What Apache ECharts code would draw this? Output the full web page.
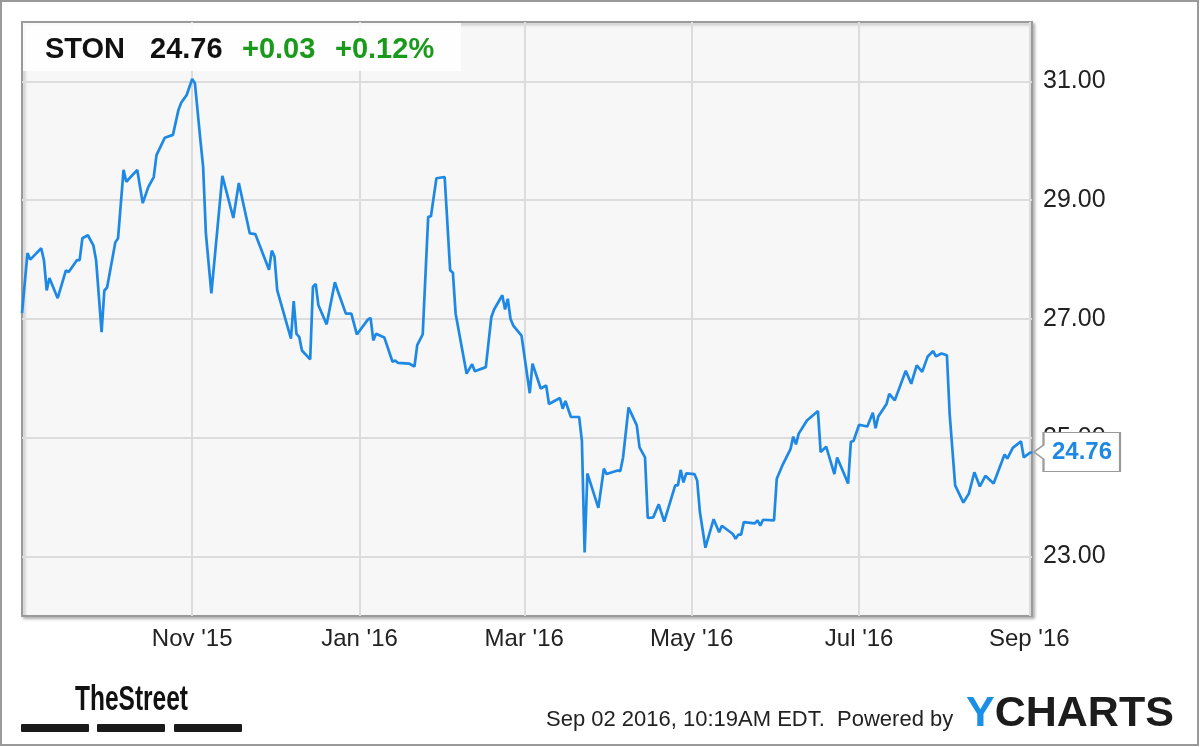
<!DOCTYPE html>
<html>
<head>
<meta charset="utf-8">
<script src="https://cdn.jsdelivr.net/npm/echarts@6/dist/echarts.min.js"></script>
<style>
html,body{margin:0;padding:0;background:#fff;}
#c{width:1200px;height:747px;}
</style>
</head>
<body>
<div id="c"></div>
<script>
const ticker = 'STON';
const lastPrice = '24.76';
const change = '+0.03';
const changePct = '+0.12%';

const dates = [
'2015-08-31','2015-09-02','2015-09-03','2015-09-07','2015-09-08','2015-09-09','2015-09-10','2015-09-13','2015-09-16','2015-09-17',
'2015-09-20','2015-09-21','2015-09-22','2015-09-24','2015-09-26','2015-09-27','2015-09-29','2015-09-30','2015-10-01','2015-10-04',
'2015-10-05','2015-10-07','2015-10-08','2015-10-12','2015-10-14','2015-10-16','2015-10-18','2015-10-19','2015-10-22','2015-10-25',
'2015-10-27','2015-10-28','2015-10-30','2015-11-01','2015-11-02','2015-11-04','2015-11-05','2015-11-06','2015-11-08','2015-11-12',
'2015-11-16','2015-11-18','2015-11-22','2015-11-24','2015-11-29','2015-11-30','2015-12-01','2015-12-02','2015-12-07','2015-12-08',
'2015-12-09','2015-12-10','2015-12-11','2015-12-14','2015-12-15','2015-12-16','2015-12-17','2015-12-20','2015-12-23','2015-12-24',
'2015-12-27','2015-12-29','2015-12-31','2016-01-04','2016-01-05','2016-01-06','2016-01-07','2016-01-10','2016-01-13','2016-01-14',
'2016-01-15','2016-01-19','2016-01-21','2016-01-22','2016-01-24','2016-01-26','2016-01-27','2016-01-29','2016-02-01','2016-02-03',
'2016-02-04','2016-02-05','2016-02-09','2016-02-11','2016-02-12','2016-02-16','2016-02-18','2016-02-19','2016-02-22','2016-02-23',
'2016-02-24','2016-02-25','2016-02-26','2016-02-29','2016-03-03','2016-03-04','2016-03-07','2016-03-09','2016-03-10','2016-03-14',
'2016-03-15','2016-03-16','2016-03-18','2016-03-21','2016-03-22','2016-03-23','2016-03-24','2016-03-28','2016-03-30','2016-03-31',
'2016-04-04','2016-04-05','2016-04-06','2016-04-08','2016-04-11','2016-04-12','2016-04-14','2016-04-15','2016-04-17','2016-04-19',
'2016-04-21','2016-04-25','2016-04-26','2016-04-27','2016-04-28','2016-04-29','2016-05-02','2016-05-03','2016-05-04','2016-05-06',
'2016-05-09','2016-05-11','2016-05-12','2016-05-16','2016-05-17','2016-05-18','2016-05-19','2016-05-20','2016-05-24','2016-05-25',
'2016-05-26','2016-05-27','2016-05-31','2016-06-01','2016-06-03','2016-06-06','2016-06-07','2016-06-08','2016-06-09','2016-06-12',
'2016-06-16','2016-06-17','2016-06-19','2016-06-22','2016-06-23','2016-06-27','2016-06-28','2016-06-29','2016-07-01','2016-07-04',
'2016-07-06','2016-07-07','2016-07-08','2016-07-11','2016-07-12','2016-07-14','2016-07-18','2016-07-20','2016-07-22','2016-07-24',
'2016-07-26','2016-07-28','2016-07-29','2016-07-31','2016-08-02','2016-08-03','2016-08-05','2016-08-08','2016-08-10','2016-08-12',
'2016-08-14','2016-08-16','2016-08-19','2016-08-23','2016-08-24','2016-08-26','2016-08-29','2016-08-30','2016-09-01','2016-09-02'
];
const prices = [
27.10,28.11,28.00,28.19,27.99,27.48,27.69,27.35,27.82,27.79,
27.99,27.99,28.36,28.41,28.24,27.99,26.78,27.48,27.53,28.29,
28.36,29.51,29.31,29.51,28.95,29.22,29.39,29.76,30.05,30.10,
30.52,30.64,30.77,31.04,30.97,30.01,29.56,28.44,27.43,29.41,
28.70,29.29,28.44,28.43,27.83,28.15,28.05,27.48,26.67,27.30,
26.75,26.70,26.47,26.32,27.54,27.59,27.23,26.91,27.62,27.48,
27.09,27.09,26.74,26.99,27.02,26.64,26.75,26.69,26.28,26.30,
26.26,26.25,26.20,26.56,26.74,28.72,28.73,29.37,29.39,27.82,
27.78,27.09,26.08,26.24,26.12,26.19,27.03,27.16,27.40,27.16,
27.34,27.00,26.89,26.72,25.75,26.25,25.83,25.88,25.57,25.67,
25.49,25.62,25.35,25.35,24.95,23.07,24.40,23.82,24.48,24.39,
24.45,24.44,24.67,25.51,25.21,24.84,24.67,23.65,23.66,23.88,
23.59,24.20,24.20,24.46,24.25,24.40,24.39,24.28,23.75,23.15,
23.63,23.41,23.52,23.38,23.30,23.37,23.37,23.58,23.56,23.61,
23.52,23.62,23.61,24.31,24.53,24.81,25.02,24.89,25.07,25.29,
25.45,24.76,24.85,24.39,24.67,24.23,24.93,24.95,25.22,25.19,
25.42,25.16,25.36,25.57,25.74,25.63,26.13,25.91,26.22,26.11,
26.37,26.46,26.37,26.42,26.39,25.40,24.20,23.91,24.06,24.42,
24.18,24.36,24.23,24.72,24.65,24.83,24.94,24.67,24.74,24.76
];

const xTickDates = ['2015-11-01','2016-01-01','2016-03-01','2016-05-01','2016-07-01','2016-09-01'];
const xTickLabels = ["Nov '15","Jan '16","Mar '16","May '16","Jul '16","Sep '16"];
const yTicks = [23, 25, 27, 29, 31];
const xMin = '2015-08-31';
const xMax = '2016-09-02';
const yMin = 22, yMax = 32;

function ts(s) { const p = s.split('-').map(Number); return Date.UTC(p[0], p[1] - 1, p[2]); }

const seriesData = dates.map((d, i) => [ts(d), prices[i]]);
const xTickTs = xTickDates.map(ts);
const last = seriesData[seriesData.length - 1];

const FONT = '"Liberation Sans", Arial, sans-serif';
const BLUE = '#1e88e5';
const GREEN = '#1a9a1a';

const chart = echarts.init(document.getElementById('c'), null, {renderer: 'canvas'});
chart.setOption({
  animation: false,
  backgroundColor: '#ffffff',
  grid: {
    left: 22, top: 22, right: 168, bottom: 131,
    show: true,
    backgroundColor: '#f7f7f7',
    borderColor: '#9a9a9a',
    borderWidth: 2,
    shadowColor: 'rgba(0,0,0,0.25)',
    shadowBlur: 3,
    shadowOffsetX: 2,
    shadowOffsetY: 2
  },
  xAxis: {
    type: 'value',
    min: ts(xMin),
    max: ts(xMax),
    axisLine: {show: false},
    axisTick: {show: false, customValues: xTickTs},
    splitLine: {show: true, lineStyle: {color: '#dcdcdc', width: 2}},
    axisLabel: {
      customValues: xTickTs,
      margin: 11,
      color: '#222',
      fontFamily: FONT,
      fontSize: 24,
      formatter: function (v) {
        const i = xTickTs.indexOf(v);
        return i >= 0 ? xTickLabels[i] : '';
      }
    }
  },
  yAxis: {
    type: 'value',
    position: 'right',
    min: yMin,
    max: yMax,
    axisLine: {show: false},
    axisTick: {show: false, customValues: yTicks},
    splitLine: {show: true, lineStyle: {color: '#dcdcdc', width: 2}},
    axisLabel: {
      customValues: yTicks,
      margin: 11,
      color: '#222',
      fontFamily: FONT,
      fontSize: 25,
      formatter: function (v) { return Number(v).toFixed(2); }
    }
  },
  series: [{
    type: 'line',
    data: seriesData,
    showSymbol: false,
    symbol: 'none',
    lineStyle: {color: BLUE, width: 2.7},
    itemStyle: {color: BLUE},
    z: 3,
    markPoint: {
      silent: true,
      data: [{coord: last, value: last[1]}],
      symbol: 'path://M0,19.5L9.5,12.5L9.5,0L86,0L86,39L9.5,39L9.5,26.5Z',
      symbolSize: [86, 39],
      symbolKeepAspect: false,
      symbolOffset: [45, 0],
      itemStyle: {color: '#ffffff', borderColor: '#9a9a9a', borderWidth: 1.5},
      label: {
        show: true,
        position: 'inside',
        offset: [5, 0],
        color: BLUE,
        fontFamily: FONT,
        fontSize: 24,
        fontWeight: 'bold',
        formatter: function (p) { return Number(p.value).toFixed(2); }
      }
    }
  }],
  graphic: [
    {type: 'rect', z: 100, shape: {x: 23, y: 23, width: 438, height: 48}, style: {fill: 'rgba(255,255,255,0.85)'}},
    {type: 'text', z: 101, x: 45, y: 50, style: {text: ticker, font: 'bold 29px ' + FONT, fill: '#111', textVerticalAlign: 'middle'}},
    {type: 'text', z: 101, x: 150, y: 50, style: {text: lastPrice, font: 'bold 29px ' + FONT, fill: '#111', textVerticalAlign: 'middle'}},
    {type: 'text', z: 101, x: 242, y: 50, style: {text: change, font: 'bold 29px ' + FONT, fill: GREEN, textVerticalAlign: 'middle'}},
    {type: 'text', z: 101, x: 335, y: 50, style: {text: changePct, font: 'bold 29px ' + FONT, fill: GREEN, textVerticalAlign: 'middle'}},
    {type: 'rect', z: 100, shape: {x: 1, y: 1, width: 1197, height: 744}, style: {fill: 'none', stroke: '#9a9a9a', lineWidth: 2}},
    {type: 'text', z: 101, x: 75, y: 700, scaleX: 0.70, style: {text: 'TheStreet', font: 'bold 35px ' + FONT, fill: '#111', textVerticalAlign: 'middle'}},
    {type: 'rect', z: 101, shape: {x: 21, y: 724, width: 68, height: 8, r: 1}, style: {fill: '#1a1a1a'}},
    {type: 'rect', z: 101, shape: {x: 97, y: 724, width: 68, height: 8, r: 1}, style: {fill: '#1a1a1a'}},
    {type: 'rect', z: 101, shape: {x: 174, y: 724, width: 68, height: 8, r: 1}, style: {fill: '#1a1a1a'}},
    {type: 'text', z: 101, x: 546, y: 720, style: {text: 'Sep 02 2016, 10:19AM EDT.  Powered by', font: '22px ' + FONT, fill: '#222', textVerticalAlign: 'middle'}},
    {type: 'text', z: 101, x: 966, y: 714, style: {
      text: '{y|Y}{c|CHARTS}', textVerticalAlign: 'middle',
      rich: {
        y: {fontSize: 43, fontWeight: 'bold', fontFamily: FONT, fill: '#1a8fe6'},
        c: {fontSize: 43, fontWeight: 'bold', fontFamily: FONT, fill: '#1c1c1c'}
      }
    }}
  ]
});
</script>
</body>
</html>
